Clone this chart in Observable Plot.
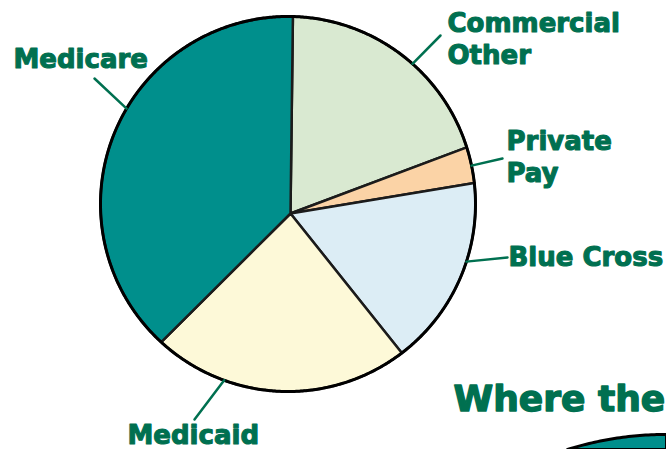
<!DOCTYPE html>
<html><head><meta charset="utf-8">
<script src="https://cdn.jsdelivr.net/npm/d3@7"></script>
<script src="https://cdn.jsdelivr.net/npm/@observablehq/plot@0.6"></script>
<style>html,body{margin:0;padding:0;background:#fff;} svg{display:block}</style>
</head><body><div id="chart"></div>
<script>
// ---- data ----
const categories = ["Commercial Other", "Private Pay", "Blue Cross", "Medicaid", "Medicare"];
const shares = [19.7, 3.1, 16.4, 22.2, 38.6];
const labelLines = [["Commercial", "Other"], ["Private", "Pay"], ["Blue Cross"], ["Medicaid"], ["Medicare"]];
const headline = "Where the";

// ---- styles ----
const sliceColors = ["#d9e9d1", "#fbd3a6", "#dcedf5", "#fdf9d8", "#008f8c"];
const textGreen = "#007050";

// ---- layout ----
const W = 666, H = 449;
const pieCenter = [287.5, 203.5], pieRadius = 187.5, apexOffset = [2.5, 9.5], startDeg = 1.5;
const leaderAngles = [41.6, 78.2, 107.9, 199.9, 300.6];
const leaderEnds = [[440, 35], [502, 158], [507, 257], [194, 419], [94, 78]];
const labelPos = [[447, 63], [506, 181], [508, 265], [127, 443], [13, 67]];
const headlinePos = [453, 410];
const bigPie = {center: [665, 761], radius: 327};

const rad = d => d * Math.PI / 180;
const onCircle = (c, r, a) => [c[0] + r * Math.sin(a), c[1] - r * Math.cos(a)];
const apex = [pieCenter[0] + apexOffset[0], pieCenter[1] + apexOffset[1]];

const arcs = d3.pie().sort(null).startAngle(rad(startDeg)).endAngle(rad(startDeg) + 2 * Math.PI)(shares);
const sliceFeatures = arcs.map((a, i) => {
  const n = Math.max(4, Math.ceil((a.endAngle - a.startAngle) / rad(0.5)));
  const ring = [apex];
  for (let k = 0; k <= n; k++) ring.push(onCircle(pieCenter, pieRadius, a.startAngle + (a.endAngle - a.startAngle) * k / n));
  ring.push(apex);
  return {type: "Feature", properties: {cat: categories[i]}, geometry: {type: "Polygon", coordinates: [ring]}};
});
function circleRing(c, r) {
  const ring = [];
  for (let k = 0; k <= 720; k++) ring.push(onCircle(c, r, 2 * Math.PI * k / 720));
  return ring;
}
const outline = {type: "Feature", geometry: {type: "Polygon", coordinates: [circleRing(pieCenter, pieRadius)]}};
const bigCircle = {type: "Feature", geometry: {type: "Polygon", coordinates: [circleRing(bigPie.center, bigPie.radius)]}};
const leaders = categories.map((c, i) => ({type: "Feature", geometry: {type: "LineString",
  coordinates: [onCircle(pieCenter, pieRadius, rad(leaderAngles[i])), leaderEnds[i]]}}));
const labels = categories.map((c, i) => ({text: labelLines[i].join("\n"), x: labelPos[i][0], y: labelPos[i][1]}));

const chart = Plot.plot({
  width: W, height: H, margin: 0,
  projection: {type: "identity"},
  color: {domain: categories, range: sliceColors},
  style: {background: "#fff"},
  marks: [
    Plot.geo(sliceFeatures, {fill: d => d.properties.cat, stroke: "#1b1b1b", strokeWidth: 2.5, strokeLinejoin: "round"}),
    Plot.geo([outline], {fill: "none", stroke: "#000", strokeWidth: 3}),
    Plot.geo(leaders, {stroke: textGreen, strokeWidth: 2.5}),
    Plot.text(labels, {x: "x", y: "y", text: "text", fill: textGreen, stroke: textGreen, strokeWidth: 1.1, fontSize: 26, fontWeight: "bold",
      fontFamily: "DejaVu Sans", textAnchor: "start", lineAnchor: "bottom", lineHeight: 1.22}),
    Plot.geo([bigCircle], {fill: "#008f8c", stroke: "#000", strokeWidth: 3}),
    Plot.text([headline], {x: () => headlinePos[0], y: () => headlinePos[1], text: d => d, fill: textGreen, stroke: textGreen, strokeWidth: 1.4,
      fontSize: 36, fontWeight: "bold", fontFamily: "DejaVu Sans", textAnchor: "start", lineAnchor: "bottom"})
  ]
});
document.getElementById("chart").append(chart);
</script>
</body></html>
